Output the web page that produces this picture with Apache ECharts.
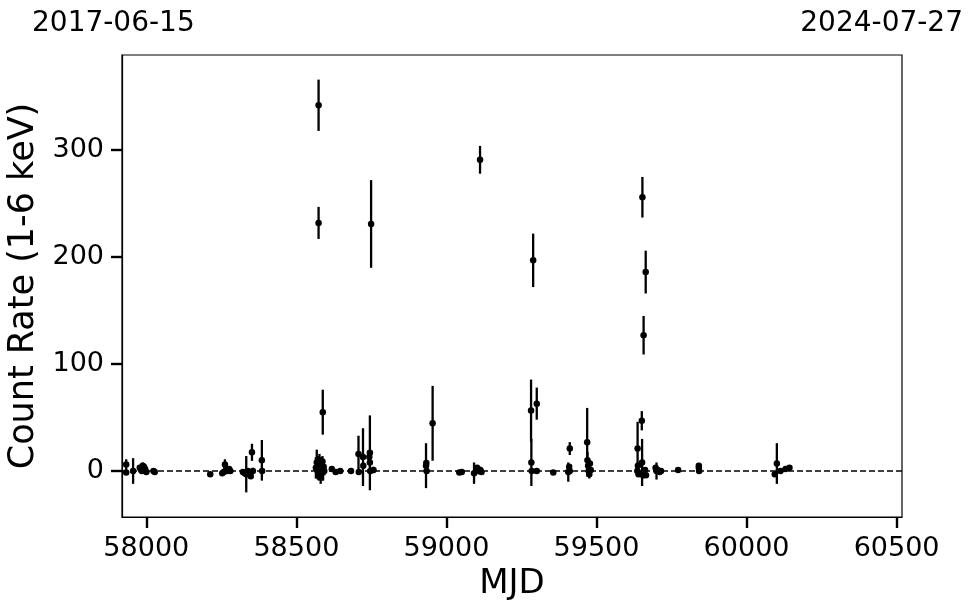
<!DOCTYPE html>
<html>
<head>
<meta charset="utf-8">
<script src="https://cdn.jsdelivr.net/npm/echarts@6/dist/echarts.min.js"></script>
<style>html,body{margin:0;padding:0;background:#fff;}#c{width:974px;height:613px;}</style>
</head>
<body>
<div id="c"></div>
<script>
// Observations: MJD, count rate (1-6 keV), 1-sigma error
const mjd = [
  57933, 57933, 57956, 57978, 57983, 57985, 57988, 57992, 57996, 58000, 58024, 58028,
  58213, 58253, 58258, 58262, 58266, 58270, 58276, 58280,
  58322, 58328, 58333, 58338, 58343, 58348, 58352, 58355, 58385, 58386,
  58565, 58568, 58571, 58573, 58575, 58577, 58579, 58581, 58583, 58585, 58587, 58589, 58591, 58593,
  58574, 58574, 58588, 58618, 58631, 58646, 58682,
  58707, 58708, 58722, 58723, 58743, 58745, 58745, 58746, 58749, 58757,
  58932, 58933, 58934, 58954, 59043, 59051,
  59092, 59102, 59107, 59112, 59113, 59117,
  59282, 59283, 59284, 59289, 59301, 59301, 59356,
  59406, 59409, 59411, 59411,
  59469, 59470, 59472, 59474, 59476, 59478, 59481,
  59636, 59637, 59638, 59640, 59651, 59652, 59653, 59655, 59657, 59658, 59662, 59664, 59665,
  59697, 59700, 59704, 59710, 59715, 59772, 59841, 59841, 59842,
  60094, 60101, 60113, 60130, 60143
];
const rate = [
  6, -1.5, 0, 3, 1, 0, 5, 4, 2, -1, 0, -1,
  -3, -2, -1, 6, 2, 0, 2, 0,
  -1, -2, -3, 0, -3, -5, 17.5, 0, 10, 0,
  3, 8, 0, 5, -2, 10, 2, -4, 6, 1, 9, -1, 4, 0,
  342, 232, 55, 2, -1, 0, 0,
  16, -1, 13, 5, 13, 17, 8, 0, 231, 1,
  5, 7.5, 0, 44.6, -1.5, -1,
  -2, 3, 0, 291, 1, -1,
  56.5, 8, 0, 197, 63, 0, -1.5,
  -1, 4, 21, 0,
  27, 10, 5, 0, -3, 7, 1,
  0, 21, 5, -3, 47, 8, 256, -4, 127, 0, 1, 186, -4,
  3, 0, 1, -1, 0, 1, 5, 3, 0,
  -3, 7, 0, 2, 3
];
const err = [
  5, 1, 12, 2, 2, 1, 3, 3, 2, 2, 2, 1,
  1, 2, 2, 5, 3, 2, 2, 1,
  1, 2, 17, 2, 3, 2, 8, 3, 19, 2,
  10, 12, 8, 9, 7, 6, 9, 8, 7, 10, 5, 8, 6, 4,
  24, 15, 21, 2, 2, 2, 2,
  17, 2, 27, 3, 4, 35, 4, 3, 41, 3,
  21, 3, 2, 35, 1, 1,
  10, 2, 3, 13, 3, 2,
  29, 22, 2, 25, 15, 2, 2,
  9, 2, 6, 2,
  32, 8, 4, 3, 4, 3, 2,
  3, 25, 3, 2, 9, 22, 19, 3, 18, 2, 2, 20, 2,
  2, 8, 2, 2, 1, 2, 2, 2, 1,
  2, 19, 2, 2, 2
];
const xTicks = [58000, 58500, 59000, 59500, 60000, 60500];
const yTicks = [0, 100, 200, 300];
const dateStart = '2017-06-15';
const dateEnd = '2024-07-27';

const pts = mjd.map((m, i) => [m, rate[i], err[i]]);
const font = 'DejaVu Sans';

const chart = echarts.init(document.getElementById('c'), null, {renderer: 'canvas'});
chart.setOption({
  animation: false,
  backgroundColor: '#fff',
  title: [
    {text: dateStart, left: 27, top: 5, textStyle: {fontFamily: font, fontSize: 28, fontWeight: 'normal', color: '#000'}},
    {text: dateEnd, right: 6, top: 5, textStyle: {fontFamily: font, fontSize: 28, fontWeight: 'normal', color: '#000'}}
  ],
  grid: {left: 122, right: 72, top: 55, bottom: 96, show: true, borderColor: '#000', borderWidth: 1.2,
    backgroundColor: 'transparent', containLabel: false, outerBoundsMode: 'none'},
  xAxis: {
    type: 'value', min: 57919, max: 60518,
    name: 'MJD', nameLocation: 'middle', nameGap: 49,
    nameTextStyle: {fontFamily: font, fontSize: 34, color: '#000'},
    axisLine: {show: true, onZero: false, lineStyle: {color: '#000', width: 1.2}},
    axisTick: {show: true, length: 11, lineStyle: {color: '#000', width: 2.4}, customValues: xTicks},
    axisLabel: {fontFamily: font, fontSize: 27, color: '#000', margin: 18, customValues: xTicks,
      formatter: v => String(v)},
    splitLine: {show: false}
  },
  yAxis: {
    type: 'value', min: -43, max: 389,
    name: 'Count Rate (1-6 keV)', nameLocation: 'middle', nameGap: 67,
    nameTextStyle: {fontFamily: font, fontSize: 35, color: '#000'},
    axisLine: {show: true, onZero: false, lineStyle: {color: '#000', width: 1.2}},
    axisTick: {show: true, length: 11, lineStyle: {color: '#000', width: 2.4}, customValues: yTicks},
    axisLabel: {fontFamily: font, fontSize: 27, color: '#000', margin: 18, customValues: yTicks,
      formatter: v => String(v)},
    splitLine: {show: false}
  },
  series: [
    {
      type: 'custom',
      data: pts,
      z: 2,
      renderItem: function (params, api) {
        const x = api.value(0), y = api.value(1), e = api.value(2);
        const p1 = api.coord([x, y - e]);
        const p2 = api.coord([x, y + e]);
        return {type: 'line', shape: {x1: p1[0], y1: p1[1], x2: p2[0], y2: p2[1]},
          style: {stroke: '#000', lineWidth: 2.3}};
      },
      markLine: {
        silent: true, symbol: 'none', z: 1,
        label: {show: false},
        lineStyle: {color: '#000', type: [6, 3], width: 1.6},
        data: [{yAxis: 0}]
      }
    },
    {
      type: 'scatter',
      data: pts.map(p => [p[0], p[1]]),
      symbol: 'circle', symbolSize: 6.5,
      itemStyle: {color: '#000', opacity: 1},
      z: 3
    }
  ]
});
</script>
</body>
</html>
